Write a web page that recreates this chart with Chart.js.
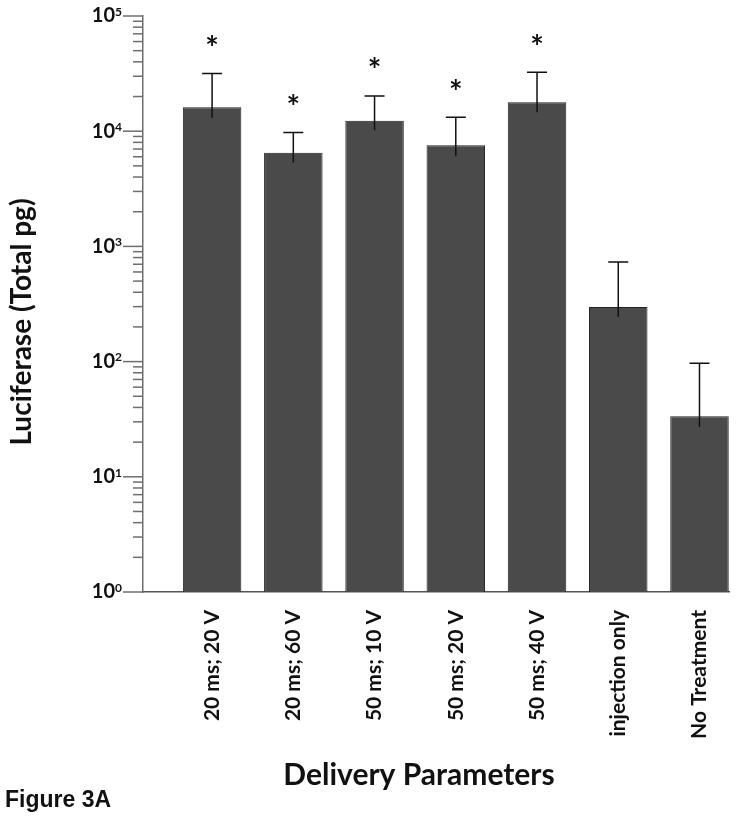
<!DOCTYPE html>
<html>
<head>
<meta charset="utf-8">
<title>Figure 3A</title>
<script src="https://cdn.jsdelivr.net/npm/chart.js@4.4.1/dist/chart.umd.min.js"></script>
<style>
    html, body { margin: 0; padding: 0; background: #fff; }
    #wrap { width: 743px; height: 817px; }
</style>
</head>
<body>
<div id="wrap"><canvas id="fig3a" width="743" height="817"></canvas></div>
<script>
    'use strict';

    // values (log scale, total pg)
    const categories = ['20 ms; 20 V', '20 ms; 60 V', '50 ms; 10 V', '50 ms; 20 V', '50 ms; 40 V', 'injection only', 'No Treatment'];
    const means = [16100, 6500, 12300, 7550, 17800, 298, 33.5];
    const errHigh = [31700, 9750, 20200, 13200, 32500, 732, 96.7];
    const errLow = [13000, 5350, 10200, 6070, 14600, 244, 27];
    const significant = [true, true, true, true, true, false, false];

    const decades = [1, 10, 100, 1000, 10000, 100000];
    const exponents = ['0', '1', '2', '3', '4', '5'];
    const minorSteps = [2, 3, 4, 5, 6, 7, 8, 9];

    const LABEL_FONT = 'Lato, "Open Sans", sans-serif';

    // log ticks + superscript labels + titles + error bars + asterisks
    const figurePlugin = {
        id: 'figureExtras',
        afterDraw(chart) {
            const ctx = chart.ctx;
            const y = chart.scales.y;
            const left = chart.chartArea.left;
            ctx.save();

            // tick marks
            ctx.strokeStyle = '#6e6e6e';
            ctx.lineWidth = 1.5;
            y.ticks.forEach((t) => {
                const py = y.getPixelForValue(t.value);
                const len = decades.includes(t.value) ? 20 : 10;
                ctx.beginPath();
                ctx.moveTo(left - len, py);
                ctx.lineTo(left, py);
                ctx.stroke();
            });

            // 10^n labels
            ctx.fillStyle = '#111';
            decades.forEach((d, i) => {
                const py = y.getPixelForValue(d);
                ctx.font = `700 20px ${LABEL_FONT}`;
                ctx.textAlign = 'right';
                ctx.textBaseline = 'middle';
                ctx.fillText('10', left - 28, py);
                ctx.font = `700 12px ${LABEL_FONT}`;
                ctx.textAlign = 'left';
                ctx.fillText(exponents[i], left - 28, py - 4);
            });

            // axis titles
            ctx.font = `700 30px ${LABEL_FONT}`;
            ctx.textAlign = 'center';
            ctx.textBaseline = 'alphabetic';
            ctx.fillText('Delivery Parameters', 419, 785);

            ctx.save();
            ctx.translate(31, 322);
            ctx.rotate(-Math.PI / 2);
            ctx.font = `700 28px ${LABEL_FONT}`;
            ctx.fillText('Luciferase (Total pg)', 0, 0);
            ctx.restore();

            ctx.font = '700 23px "Liberation Sans", Arial, sans-serif';
            ctx.textAlign = 'left';
            ctx.fillText('Figure 3A', 5, 807);

            // error bars (upper cap, lower stem only) and asterisks
            const meta = chart.getDatasetMeta(0);
            meta.data.forEach((bar, i) => {
                const top = y.getPixelForValue(errHigh[i]);
                const low = y.getPixelForValue(errLow[i]);
                ctx.strokeStyle = '#111';
                ctx.lineWidth = 1.5;
                ctx.beginPath();
                ctx.moveTo(bar.x, low);
                ctx.lineTo(bar.x, top);
                ctx.moveTo(bar.x - 10, top);
                ctx.lineTo(bar.x + 10, top);
                ctx.stroke();
                if (significant[i]) {
                    ctx.font = `700 32px ${LABEL_FONT}`;
                    ctx.textAlign = 'center';
                    ctx.textBaseline = 'middle';
                    ctx.fillText('*', bar.x, top - 24);
                }
            });
            ctx.restore();
        }
    };

    new Chart(document.getElementById('fig3a'), {
        type: 'bar',
        plugins: [figurePlugin],
        data: {
            datasets: [{
                data: means.map((v, i) => ({ x: i, y: v })),
                backgroundColor: '#4a4a4a',
                borderColor: '#222',
                borderWidth: 1,
                barPercentage: 0.72,
                categoryPercentage: 1
            }]
        },
        options: {
            responsive: false,
            animation: false,
            layout: { padding: { top: 16, right: 6, left: 0, bottom: 0 } },
            plugins: {
                legend: { display: false },
                tooltip: { enabled: false }
            },
            scales: {
                x: {
                    type: 'linear',
                    offset: false,
                    min: -0.8505,
                    max: 6.367,
                    afterBuildTicks(scale) {
                        scale.ticks = categories.map((c, i) => ({ value: i }));
                    },
                    afterFit(scale) { scale.height = 225; },
                    grid: { display: false, drawTicks: false },
                    border: { display: true, color: '#555', width: 1.5 },
                    ticks: {
                        autoSkip: false,
                        maxRotation: 90,
                        minRotation: 90,
                        padding: 18,
                        color: '#111',
                        font: { family: LABEL_FONT, size: 21, weight: '700' },
                        callback: (v) => categories[v]
                    }
                },
                y: {
                    type: 'logarithmic',
                    min: 1,
                    max: 100000,
                    afterBuildTicks(scale) {
                        const ticks = [];
                        decades.forEach((d, i) => {
                            ticks.push({ value: d, major: true });
                            if (i < decades.length - 1) {
                                minorSteps.forEach((m) => ticks.push({ value: m * d }));
                            }
                        });
                        scale.ticks = ticks;
                    },
                    afterFit(scale) { scale.width = 143; },
                    grid: { display: false, drawTicks: false },
                    border: { display: true, color: '#6e6e6e', width: 1.5 },
                    ticks: { display: false }
                }
            }
        }
    });
</script>
</body>
</html>
